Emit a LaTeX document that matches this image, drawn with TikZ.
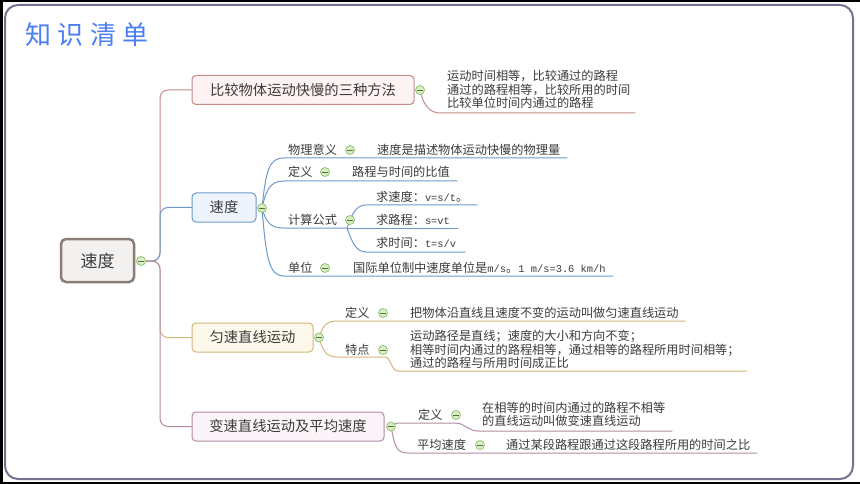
\documentclass[tikz,border=0pt]{standalone}
\usepackage{fontspec}
\setmainfont{Noto Sans CJK SC}
\newfontfamily\monofnt{Liberation Mono}
\newcommand{\lt}[1]{{\monofnt\fontsize{10.4}{12}\selectfont #1}}
\usetikzlibrary{backgrounds}
\definecolor{titleblue}{HTML}{4A7EF2}
\definecolor{framec}{HTML}{77718F}
\definecolor{txt}{HTML}{3C3C3C}
\definecolor{redc}{HTML}{C98A8A}
\definecolor{redfill}{HTML}{FDF3F2}
\definecolor{bluec}{HTML}{6E9ACB}
\definecolor{bluefill}{HTML}{EEF4FB}
\definecolor{goldc}{HTML}{D3B679}
\definecolor{goldfill}{HTML}{FDF8EC}
\definecolor{purc}{HTML}{B48BA6}
\definecolor{purfill}{HTML}{FBF4F8}
\definecolor{rootc}{HTML}{8A7D78}
\definecolor{rootfill}{HTML}{F3F1EF}
\definecolor{tgfill}{HTML}{D8EDC4}
\definecolor{tgline}{HTML}{8DBF6A}
\begin{document}
\begin{tikzpicture}[x=1pt,y=-1pt,
  rootbox/.style={draw=rootc, fill=rootfill, line width=2.5pt, rounded corners=5pt, minimum width=73pt, minimum height=43pt, inner sep=0, text=txt, font=\fontsize{17}{20}\selectfont},
  bbox/.style={line width=1pt, rounded corners=4pt, inner sep=0, minimum height=29pt, text=txt, font=\fontsize{14.3}{16}\selectfont},
  lab/.style={anchor=west, inner sep=0, text=txt, font=\fontsize{12.2}{13.5}\selectfont, align=left},
  tog/.style={circle, draw=tgline, fill=tgfill, line width=0.7pt, minimum size=9pt, inner sep=0,
    path picture={\draw[tgline!60!black, line width=0.7pt] ([xshift=-2.6pt]path picture bounding box.center) -- ([xshift=2.6pt]path picture bounding box.center);}},
  con/.style={line width=1pt, line cap=round}]
\useasboundingbox (0,0) rectangle (860,484);
\begin{scope}[on background layer]
  \fill[white] (0,0) rectangle (860,484);
  \fill[black] (0,0) rectangle (860,2.5);
  \fill[black] (0,0) rectangle (2.5,484);
  \fill[black] (0,481.5) rectangle (860,484);
  \draw[framec, line width=2pt, rounded corners=13pt] (5,5) rectangle (853,479);
\end{scope}

\node[anchor=west, inner sep=0, text=titleblue, font=\fontsize{26}{30}\selectfont\addfontfeature{LetterSpace=25}] (title) at (25,35) {知识清单};

% root and branch boxes
\node[rootbox] (root) at (97.5,260.5) {速度};
\node[bbox, draw=redc, fill=redfill, minimum width=222pt] (b1) at (303,90) {比较物体运动快慢的三种方法};
\node[bbox, draw=bluec, fill=bluefill, minimum width=64pt] (b2) at (224,207.5) {速度};
\node[bbox, draw=goldc, fill=goldfill, minimum width=121pt] (b3) at (252.5,337.5) {匀速直线运动};
\node[bbox, draw=purc, fill=purfill, minimum width=192pt] (b4) at (288,426.5) {变速直线运动及平均速度};

% toggles
\node[tog] (t0) at (141,261) {};
\node[tog] (t1) at (420,90) {};
\node[tog] (t2) at (262,208) {};
\node[tog] (t3) at (319,337.5) {};
\node[tog] (t4) at (391,426.5) {};
\node[tog] (t21) at (350,150) {};
\node[tog] (t22) at (325,172) {};
\node[tog] (t23) at (350,220) {};
\node[tog] (t24) at (325,268) {};
\node[tog] (t31) at (383,313) {};
\node[tog] (t32) at (383,350) {};
\node[tog] (t41) at (456,415) {};
\node[tog] (t42) at (480,445) {};

% texts
\node[lab] (x1) at (447,89.5) {运动时间相等，比较通过的路程\\通过的路程相等，比较所用的时间\\比较单位时间内通过的路程};
\node[lab] (l21) at (288,150) {物理意义};
\node[lab] (x21) at (377,150) {速度是描述物体运动快慢的物理量};
\node[lab] (l22) at (288,172) {定义};
\node[lab] (x22) at (352,172) {路程与时间的比值};
\node[lab] (l23) at (288,220) {计算公式};
\node[lab] (x231) at (376,197) {求速度：\lt{v=s/t}。};
\node[lab] (x232) at (376,220) {求路程：\lt{s=vt}};
\node[lab] (x233) at (376,243) {求时间：\lt{t=s/v}};
\node[lab] (l24) at (288,268) {单位};
\node[lab] (x24) at (353,268) {国际单位制中速度单位是\lt{m/s}。\lt{1 m/s=3.6 km/h}};
\node[lab] (l31) at (345,313) {定义};
\node[lab] (x31) at (410,313) {把物体沿直线且速度不变的运动叫做匀速直线运动};
\node[lab] (l32) at (345,350) {特点};
\node[lab] (x32) at (410,349.5) {运动路径是直线；速度的大小和方向不变；\\相等时间内通过的路程相等，通过相等的路程所用时间相等；\\通过的路程与所用时间成正比};
\node[lab] (l41) at (418,415) {定义};
\node[lab] (x41) at (482,414.5) {在相等的时间内通过的路程不相等\\的直线运动叫做变速直线运动};
\node[lab] (l42) at (417,445) {平均速度};
\node[lab] (x42) at (506,445) {通过某段路程跟通过这段路程所用的时间之比};

% connector coordinates
\coordinate (j0) at (160,261);
\coordinate (u1s) at (440,113); \coordinate (u1e) at (635,113);
\coordinate (u21s) at (284,158); \coordinate (u21e) at (567,158);
\coordinate (u22s) at (284,181); \coordinate (u22e) at (457,181);
\coordinate (u23s) at (284,228); \coordinate (j23) at (347,228);
\coordinate (u231s) at (366,205); \coordinate (u231e) at (477,205);
\coordinate (u232e) at (458,228);
\coordinate (u233s) at (366,252); \coordinate (u233e) at (465,252);
\coordinate (u24s) at (284,276); \coordinate (u24e) at (613,276);
\coordinate (u31s) at (338,321); \coordinate (u31e) at (685,321);
\coordinate (u32s) at (338,357); \coordinate (u32m) at (385,357);
\coordinate (u32n) at (398,371); \coordinate (u32e) at (747,371);
\coordinate (u41s) at (400,423); \coordinate (u41m) at (455,423);
\coordinate (u41n) at (478,431); \coordinate (u41e) at (672,431);
\coordinate (u42s) at (408,453); \coordinate (u42e) at (757,453);

\begin{scope}[on background layer]
  % trunk
  \draw[con, redc, rounded corners=8pt] (t0.center) -- (j0) -- (j0 |- b1.west) -- (b1.west);
  \draw[con, bluec, rounded corners=8pt] (t0.center) -- (j0) -- (j0 |- b2.west) -- (b2.west);
  \draw[con, goldc, rounded corners=8pt] (t0.center) -- (j0) -- (j0 |- b3.west) -- (b3.west);
  \draw[con, purc, rounded corners=8pt] (t0.center) -- (j0) -- (j0 |- b4.west) -- (b4.west);
  % branch 1
  \draw[con, redc] (t1.center) .. controls +(3,14) and +(-11,0) .. (u1s) -- (u1e);
  % branch 2
  \draw[con, bluec] (t2.center) .. controls +(4,-38) and +(-15,0) .. (u21s) -- (u21e);
  \draw[con, bluec] (t2.center) .. controls +(4,-18) and +(-14,0) .. (u22s) -- (u22e);
  \draw[con, bluec] (t2.center) .. controls +(4,14) and +(-14,0) .. (u23s) -- (j23);
  \draw[con, bluec] (j23) .. controls +(5,-14) and +(-10,0) .. (u231s) -- (u231e);
  \draw[con, bluec] (j23) -- (u232e);
  \draw[con, bluec] (j23) .. controls +(5,14) and +(-10,0) .. (u233s) -- (u233e);
  \draw[con, bluec] (t2.center) .. controls +(4,50) and +(-15,0) .. (u24s) -- (u24e);
  % branch 3
  \draw[con, goldc] (t3.center) .. controls +(4,-12) and +(-12,0) .. (u31s) -- (u31e);
  \draw[con, goldc] (t3.center) .. controls +(4,14) and +(-12,0) .. (u32s) -- (u32m) .. controls +(6,0) and +(-7,0) .. (u32n) -- (u32e);
  % branch 4
  \draw[con, purc] (t4.center) .. controls +(4,-3) and +(-4,0) .. (u41s) -- (u41m) .. controls +(10,0) and +(-10,0) .. (u41n) -- (u41e);
  \draw[con, purc] (t4.center) .. controls +(4,20) and +(-12,0) .. (u42s) -- (u42e);
\end{scope}
\end{tikzpicture}
\end{document}
